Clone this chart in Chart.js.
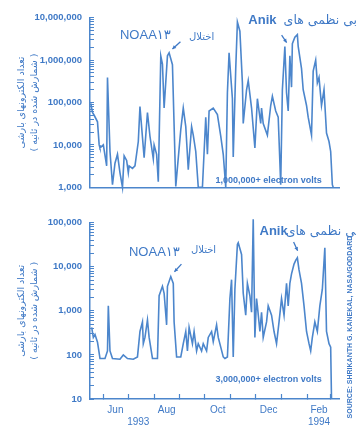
<!DOCTYPE html>
<html>
<head>
<meta charset="utf-8">
<script src="https://cdn.jsdelivr.net/npm/chart.js@4.4.1/dist/chart.umd.min.js"></script>
<style>
  body { margin: 0; background: #fff; }
  #wrap { position: relative; width: 356px; height: 429px; overflow: hidden; background: #fff; }
  canvas { position: absolute; left: 0; }
  #topChart { top: 0; }
  #bottomChart { top: 205px; }
</style>
</head>
<body>
<div id="wrap">
  <canvas id="topChart" width="356" height="205"></canvas>
  <canvas id="bottomChart" width="356" height="224"></canvas>
</div>
<script>
// days counted from 1 June 1993
const topDays = [
  -15, -13, -11, -7, -5, -4, 0, 4, 5, 8,
  11, 14, 17, 20, 23, 25, 28, 30, 31, 35,
  38, 42, 44, 49, 53, 56, 60, 61, 64, 66,
  69, 71, 73, 77, 79, 83, 87, 93, 96, 99,
  102, 106, 108, 111, 114, 119, 123, 125, 127, 132,
  137, 141, 144, 147, 149, 151, 155, 156, 159, 161,
  164, 167, 168, 172, 174, 178, 182, 185, 189, 190,
  192, 197, 201, 203, 207, 210, 213, 215, 218, 220,
  222, 224, 226, 227, 230, 233, 234, 238, 240, 244,
  246, 250, 252, 255, 257, 259, 262, 265, 268, 271,
  273, 275, 276
];
const topCounts = [
  95000, 58000, 50000, 35000, 10000, 8500, 10000, 3200, 390000, 7000,
  1150, 3700, 6000, 2200, 1000, 5500, 4300, 2200, 3200, 2800,
  3200, 12000, 80000, 5000, 58000, 16000, 4700, 10000, 6000, 1350,
  1260000, 810000, 74000, 1260000, 1480000, 780000, 1050, 23000, 74000, 27000,
  2600, 27000, 17000, 7000, 1000, 1000, 45000, 6000, 63000, 74000,
  52000, 16000, 6000, 1000, 170000, 1480000, 123000, 5200, 630000, 7900000,
  4800000, 290000, 32000, 200000, 330000, 74000, 8500, 123000, 32000, 74000,
  32000, 17000, 85000, 140000, 63000, 45000, 1150, 200000, 2100000, 170000,
  63000, 1260000, 230000, 2450000, 3470000, 4000000, 2100000, 630000, 200000, 85000,
  45000, 17000, 550000, 1000000, 290000, 390000, 85000, 200000, 19000, 12000,
  7000, 1150, 1000
];

const bottomDays = [
  -14, -12, -10, -7, -4, -1, 2, 5, 6, 8,
  11, 20, 24, 29, 36, 41, 44, 47, 48, 50,
  53, 55, 59, 65, 67, 71, 73, 76, 77, 81,
  84, 85, 88, 93, 96, 99, 101, 103, 107, 109,
  112, 114, 118, 120, 124, 126, 130, 132, 136, 138,
  141, 144, 146, 149, 152, 154, 156, 158, 161, 162,
  166, 168, 171, 173, 176, 178, 180, 182, 184, 185,
  188, 190, 192, 196, 198, 202, 205, 208, 211, 214,
  217, 220, 222, 224, 226, 229, 231, 233, 235, 238,
  241, 244, 247, 249, 251, 254, 257, 260, 263, 266,
  268, 271, 273, 274
];
const bottomCounts = [
  420, 250, 290, 195, 83, 83, 83, 123, 1300, 123,
  83, 80, 100, 83, 80, 90, 340, 560, 180, 250,
  620, 250, 83, 83, 2200, 3600, 2500, 480, 3600, 6000,
  4200, 560, 90, 90, 180, 340, 123, 420, 180, 340,
  123, 180, 123, 180, 123, 250, 340, 200, 480, 250,
  150, 90, 83, 90, 1900, 5100, 90, 3100, 32000, 35000,
  19000, 2500, 800, 4200, 2200, 930, 120000, 250, 1900, 1300,
  340, 930, 250, 560, 1300, 800, 340, 180, 560, 1900,
  800, 4200, 1300, 4200, 6900, 11500, 14000, 16000, 8500, 4200,
  1300, 340, 180, 123, 250, 560, 340, 1300, 3100, 27000,
  340, 180, 150, 10
];

const monthStarts = [0, 30, 61, 92, 122, 153, 183, 214, 245, 273];
const monthLabelDays = [14.5, 76, 137.5, 198.5, 259];
const monthLabels = ["Jun", "Aug", "Oct", "Dec", "Feb"];
const yearLabelDays = [42, 259];
const yearLabels = ["1993", "1994"];

const BLUE = "#4c86cc";
const TEXT = "#3f79c6";
const FA_FONT = '"DejaVu Sans", "Noto Sans", sans-serif';
const EN_FONT = '"Liberation Sans", "DejaVu Sans", sans-serif';
const yTitle = ["تعداد الکترونهای بارشی", "( شمارش شده در ثانیه )"];

function logTicks(min, max) {
  const ticks = [];
  for (let d = min; d < max; d *= 10) {
    for (let m = 1; m < 10; m++) ticks.push({ value: d * m });
  }
  ticks.push({ value: max });
  return ticks;
}

function xTickLabel(value) {
  const m = monthLabelDays.indexOf(value);
  const y = yearLabelDays.indexOf(value);
  if (m < 0 && y < 0) return "";
  return [m >= 0 ? monthLabels[m] : "", y >= 0 ? yearLabels[y] : ""];
}

// text notes and arrows, placed in data coordinates
const notesPlugin = {
  id: "notes",
  afterDatasetsDraw(chart, args, opts) {
    const { ctx } = chart;
    const x = chart.scales.x;
    const y = chart.scales.y;
    ctx.save();
    (opts.labels || []).forEach((n) => {
      ctx.font = n.font;
      ctx.fillStyle = TEXT;
      ctx.textAlign = n.align || "center";
      ctx.textBaseline = "middle";
      ctx.fillText(n.text, x.getPixelForValue(n.day), y.getPixelForValue(n.count));
    });
    (opts.arrows || []).forEach((a) => {
      const x1 = x.getPixelForValue(a.from[0]);
      const y1 = y.getPixelForValue(a.from[1]);
      const x2 = x.getPixelForValue(a.to[0]);
      const y2 = y.getPixelForValue(a.to[1]);
      const ang = Math.atan2(y2 - y1, x2 - x1);
      ctx.strokeStyle = TEXT;
      ctx.fillStyle = TEXT;
      ctx.lineWidth = 1.3;
      ctx.beginPath();
      ctx.moveTo(x1, y1);
      ctx.lineTo(x2, y2);
      ctx.stroke();
      ctx.beginPath();
      ctx.moveTo(x2, y2);
      ctx.lineTo(x2 - 4 * Math.cos(ang - 0.5), y2 - 4 * Math.sin(ang - 0.5));
      ctx.lineTo(x2 - 4 * Math.cos(ang + 0.5), y2 - 4 * Math.sin(ang + 0.5));
      ctx.closePath();
      ctx.fill();
    });
    if (opts.source) {
      ctx.translate(chart.width - 6, 122);
      ctx.rotate(-Math.PI / 2);
      ctx.font = "bold 7px " + EN_FONT;
      ctx.fillStyle = TEXT;
      ctx.textAlign = "center";
      ctx.textBaseline = "middle";
      ctx.fillText(opts.source, 0, 0);
    }
    ctx.restore();
  },
};

function makeChart(id, days, counts, yMin, yMax, cfg) {
  const ctx = document.getElementById(id).getContext("2d");
  const xTickValues = [...new Set([...monthStarts, ...monthLabelDays, ...yearLabelDays])].sort((a, b) => a - b);
  return new Chart(ctx, {
    type: "line",
    data: {
      datasets: [
        {
          data: days.map((d, i) => ({ x: d, y: counts[i] })),
          borderColor: BLUE,
          borderWidth: 1.6,
          pointRadius: 0,
          tension: 0,
          fill: false,
          clip: false,
        },
      ],
    },
    options: {
      responsive: false,
      animation: false,
      layout: { padding: { top: cfg.padTop, right: 17, bottom: 0, left: 0 } },
      plugins: {
        legend: { display: false },
        tooltip: { enabled: false },
        notes: cfg.notes,
      },
      scales: {
        x: {
          type: "linear",
          min: -16,
          max: 283,
          afterBuildTicks: (axis) => {
            axis.ticks = xTickValues.map((v) => ({ value: v }));
          },
          afterFit: (axis) => {
            axis.height = cfg.xHeight;
          },
          grid: {
            drawOnChartArea: false,
            drawTicks: cfg.showX,
            tickLength: -5,
            tickColor: (c) => (c.tick && monthStarts.includes(c.tick.value) ? BLUE : "rgba(0,0,0,0)"),
            tickWidth: 1.2,
          },
          border: { color: BLUE, width: 1.5 },
          ticks: {
            display: cfg.showX,
            autoSkip: false,
            maxRotation: 0,
            minRotation: 0,
            padding: 10,
            color: TEXT,
            font: { family: EN_FONT, size: 10 },
            callback: (v) => xTickLabel(v),
          },
        },
        y: {
          type: "logarithmic",
          min: yMin,
          max: yMax,
          afterBuildTicks: (axis) => {
            axis.ticks = logTicks(yMin, yMax);
          },
          afterFit: (axis) => {
            axis.width = 90;
          },
          grid: {
            drawOnChartArea: false,
            tickLength: -4,
            tickColor: BLUE,
            tickWidth: 1,
          },
          border: { color: BLUE, width: 1.5 },
          ticks: {
            autoSkip: false,
            padding: 12,
            color: TEXT,
            font: { family: EN_FONT, size: 9.5, weight: "bold" },
            callback: (v) => {
              const p = Math.log10(v);
              return Math.abs(p - Math.round(p)) < 1e-9 ? v.toLocaleString("en-US") : "";
            },
          },
          title: {
            display: true,
            text: yTitle,
            color: TEXT,
            font: { family: FA_FONT, size: 9.5, lineHeight: 1.35 },
            padding: { top: 15.5, bottom: 0 },
          },
        },
      },
    },
    plugins: [notesPlugin],
  });
}

makeChart("topChart", topDays, topCounts, 1000, 10000000, {
  padTop: 12,
  xHeight: 9,
  showX: false,
  notes: {
    labels: [
      { text: "NOAA۱۳", day: 50.5, count: 3860000, font: "13px " + EN_FONT },
      { text: "اختلال", day: 118, count: 3490000, font: "10px " + FA_FONT },
      { text: "Anik", day: 191, count: 8600000, font: "bold 13px " + EN_FONT },
      { text: "بی نظمی های", day: 216.5, count: 8600000, font: "12.5px " + FA_FONT, align: "left" },
      { text: "1,000,000+ electron volts", day: 198.4, count: 1420, font: "bold 9px " + EN_FONT },
    ],
    arrows: [
      { from: [92.6, 2720000], to: [83, 1820000] },
      { from: [214.1, 3860000], to: [220.1, 2590000] },
    ],
  },
});

makeChart("bottomChart", bottomDays, bottomCounts, 10, 100000, {
  padTop: 14,
  xHeight: 30,
  showX: true,
  notes: {
    labels: [
      { text: "NOAA۱۳", day: 61.3, count: 21000, font: "13px " + EN_FONT },
      { text: "اختلال", day: 120.3, count: 23200, font: "10px " + FA_FONT },
      { text: "Anik", day: 204.5, count: 63500, font: "bold 13px " + EN_FONT },
      { text: "بی نظمی های", day: 219, count: 63500, font: "12.5px " + FA_FONT, align: "left" },
      { text: "3,000,000+ electron volts", day: 198.4, count: 27.4, font: "bold 9px " + EN_FONT },
    ],
    arrows: [
      { from: [93.8, 11500], to: [85.4, 7700] },
      { from: [228.5, 36500], to: [233.3, 23200] },
    ],
    source: "SOURCE: SHRIKANTH G. KANEKAL, NASA/GODDARD",
  },
});
</script>
</body>
</html>
